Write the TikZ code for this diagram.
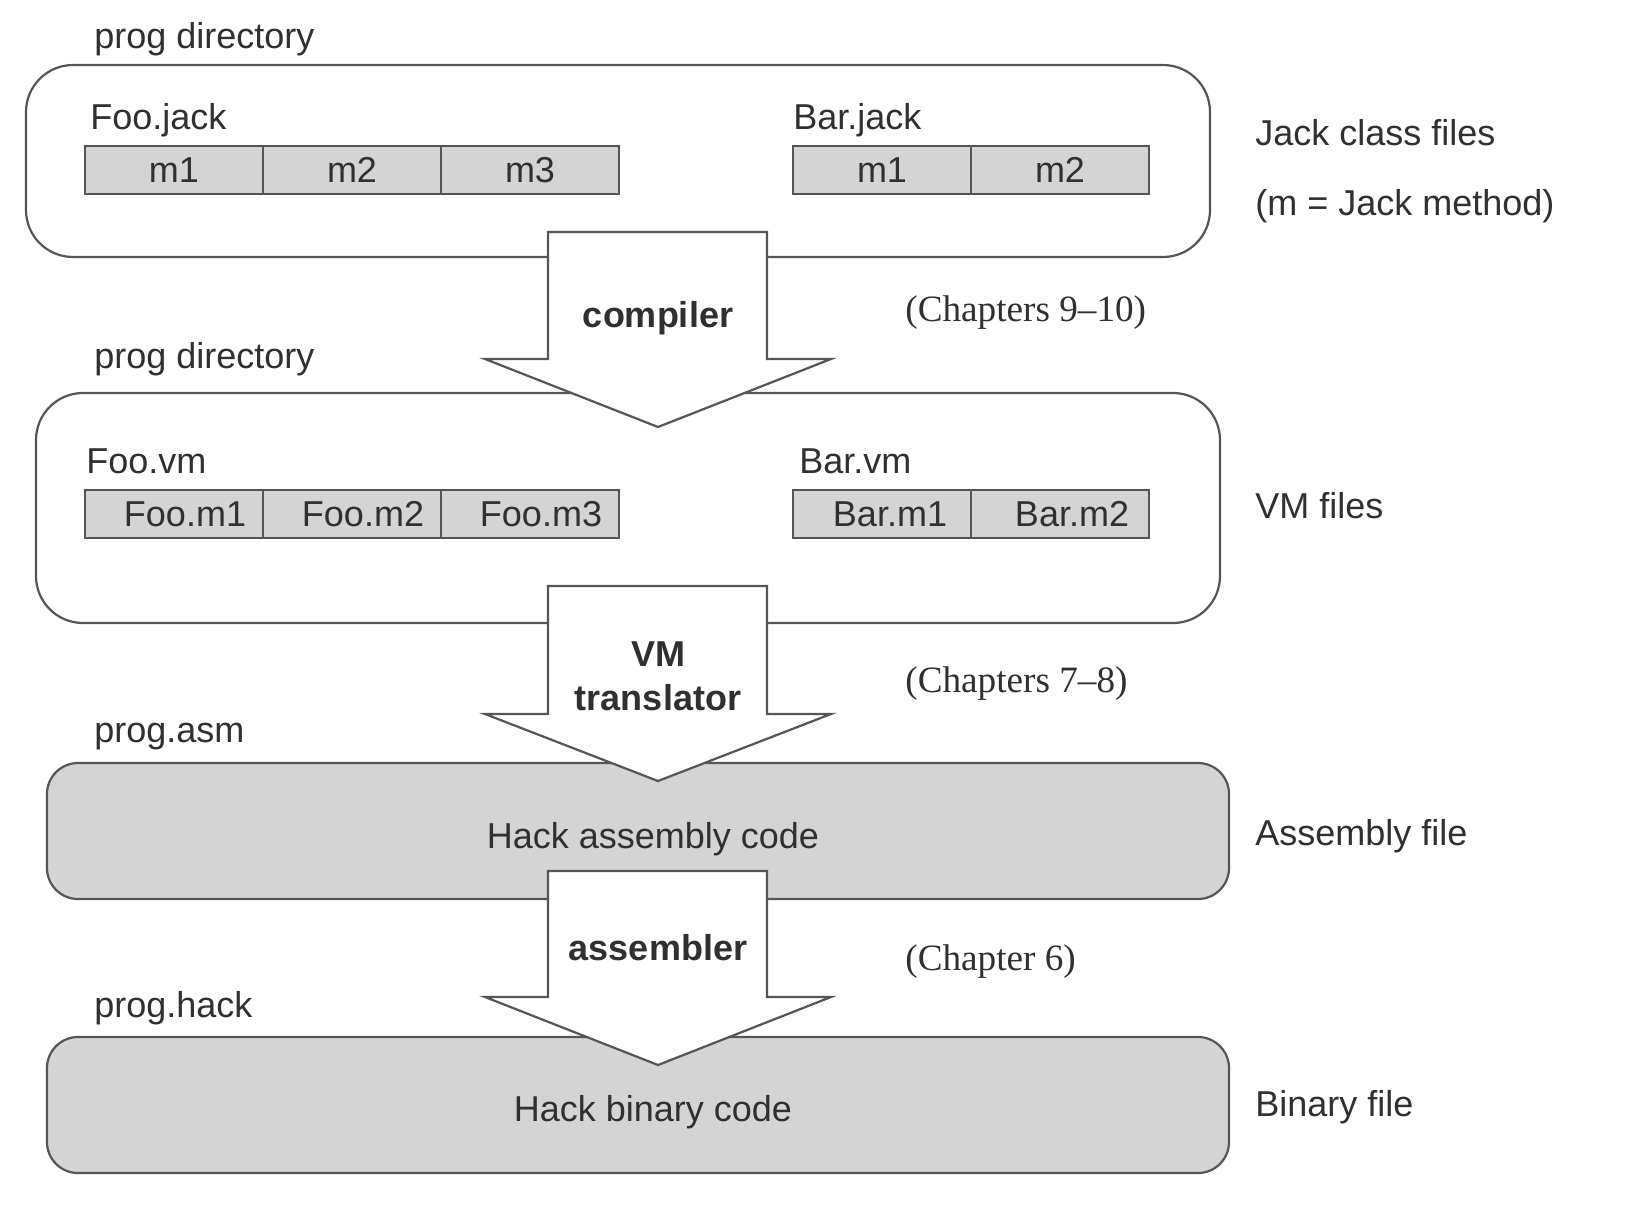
\documentclass[tikz,border=0pt]{standalone}
\usepackage{fontspec}
\setmainfont{Liberation Sans}
\newfontfamily\chapfont{Liberation Serif}
\definecolor{lc}{HTML}{555555}
\definecolor{tc}{HTML}{303030}
\definecolor{cellgray}{HTML}{D4D4D4}
\newcommand\blkarrow[4]{% name, top, head, tip
  \draw[blockarrow] (548,#2) -- (767,#2) -- (767,#3) -- (831,#3) -- (658,#4) coordinate (#1tip) -- (485,#3) -- (548,#3) -- cycle;}
\begin{document}
\begin{tikzpicture}[x=0.5pt,y=-0.5pt,
  txt/.style={inner sep=0pt, text=tc, font=\fontsize{18}{22}\selectfont},
  lbl/.style={txt, anchor=west},
  chap/.style={lbl, font=\chapfont\fontsize{18.6}{22}\selectfont},
  tool/.style={txt, font=\bfseries\fontsize{18}{22}\selectfont, align=center},
  dirbox/.style={draw=lc, line width=1.1pt, rounded corners=23.5pt, minimum width=592pt, inner sep=0pt},
  filebox/.style={draw=lc, line width=1.1pt, rounded corners=15.5pt, fill=cellgray, minimum width=591pt, minimum height=68pt, inner sep=0pt},
  cell/.style={draw=lc, fill=cellgray, line width=1pt, minimum width=89pt, minimum height=24pt, inner sep=0pt, text=tc, font=\fontsize{18}{22}\selectfont},
  blockarrow/.style={draw=lc, fill=white, line width=1.1pt, line join=miter}]
\useasboundingbox (0,0) rectangle (1632,1206);

% containers
\node[dirbox, minimum height=96pt] (jackdir) at (618,161) {};
\node[dirbox, minimum height=115pt] (vmdir) at (628,508) {};
\node[filebox] (asmbox) at (638,831) {};
\node[filebox] (hackbox) at (638,1105) {};

% Jack cells
\node[cell] (fj1) at (174,170) {m1};
\node[cell] (fj2) at (352,170) {m2};
\node[cell] (fj3) at (530,170) {m3};
\node[cell] (bj1) at (882,170) {m1};
\node[cell] (bj2) at (1060,170) {m2};

% VM cells
\node[cell] (fv1) at (174,514) {\hspace*{11pt}Foo.m1};
\node[cell] (fv2) at (352,514) {\hspace*{11pt}Foo.m2};
\node[cell] (fv3) at (530,514) {\hspace*{11pt}Foo.m3};
\node[cell] (bv1) at (882,514) {\hspace*{8pt}Bar.m1};
\node[cell] (bv2) at (1060,514) {\hspace*{12pt}Bar.m2};

% block arrows
\blkarrow{compA}{232}{359}{427}
\blkarrow{vmA}{586}{714}{781}
\blkarrow{asmA}{871}{997}{1065}

% texts
\node[lbl] (pd1) at (94,39) {prog directory};
\node[lbl] (foojack) at (90,120) {Foo.jack};
\node[lbl] (barjack) at (793,120) {Bar.jack};
\node[lbl] (pd2) at (94,359) {prog directory};
\node[lbl] (foovm) at (86,461) {Foo.vm};
\node[lbl] (barvm) at (799,461) {Bar.vm};
\node[lbl] (progasm) at (94,737) {prog.asm};
\node[lbl] (proghack) at (94,1008) {prog.hack};

\node[txt] (asmtxt) at (653,839) {Hack assembly code};
\node[txt] (hacktxt) at (653,1112) {Hack binary code};

\node[tool] (compiler) at (658,318) {compiler};
\node[tool] (vmtrans) at (658,676.5) {VM\\translator};
\node[tool] (assembler) at (658,948) {assembler};

\node[chap] (ch1) at (905,313) {(Chapters 9–10)};
\node[chap] (ch2) at (905,684) {(Chapters 7–8)};
\node[chap] (ch3) at (905,962) {(Chapter 6)};

\node[lbl] (r1) at (1255,133) {Jack class files};
\node[lbl] (r2) at (1255,206) {(m = Jack method)};
\node[lbl] (r3) at (1255,506) {VM files};
\node[lbl] (r4) at (1255,836) {Assembly file};
\node[lbl] (r5) at (1255,1107) {Binary file};
\end{tikzpicture}
\end{document}
